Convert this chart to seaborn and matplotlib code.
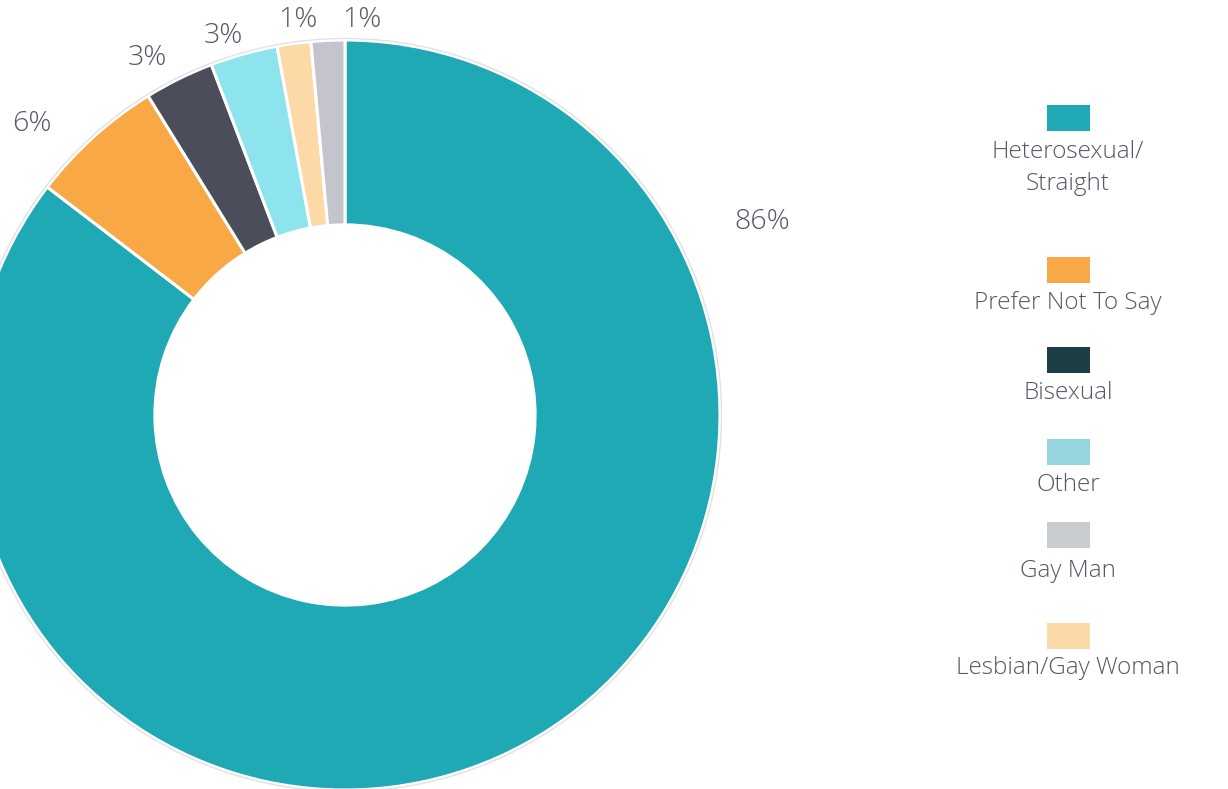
import matplotlib
matplotlib.use("Agg")
import matplotlib.pyplot as plt
import numpy as np
import seaborn as sns
from matplotlib.patches import Rectangle

# data
categories = ["Heterosexual/\nStraight", "Prefer Not To Say", "Bisexual", "Other",
              "Lesbian/Gay Woman", "Gay Man"]
shares = [85.4, 5.8, 3.0, 2.9, 1.45, 1.45]
pct_labels = ["86%", "6%", "3%", "3%", "1%", "1%"]
wedge_colors = ["#1fa9b4", "#f8a945", "#4b4d5a", "#8de4ec", "#fdd9a8", "#c4c4cc"]

legend_names = ["Heterosexual/\nStraight", "Prefer Not To Say", "Bisexual", "Other",
                "Gay Man", "Lesbian/Gay Woman"]
legend_colors = ["#1fa9b5", "#f8a847", "#1c3f46", "#95d6df", "#c9cdd0", "#fcdaa8"]

sns.set_theme(style="white")
plt.rcParams["font.family"] = ["Open Sans", "DejaVu Sans"]
txt_color = "#545766"

W, H = 1228, 789
fig = plt.figure(figsize=(W / 100, H / 100), dpi=100)
ax = fig.add_axes([0, 0, 1, 1])

wedges, _ = ax.pie(shares, colors=wedge_colors, startangle=90, counterclock=False,
                   radius=1.0, wedgeprops=dict(width=0.493, edgecolor="white", linewidth=2.2))

# donut: centre at px (345, 415), outer radius 375 px
R = 375.0
cx, cy = 345.0, H - 415.0
ax.set_aspect("auto")
ax.set_xlim(-cx / R, (W - cx) / R)
ax.set_ylim(-cy / R, (H - cy) / R)
ax.axis("off")

# faint outer ring
ring = plt.Circle((0, 0), 1.004, fill=False, edgecolor="#e2e2e6", linewidth=1.0)
ax.add_patch(ring)

# percentage labels: anchored at the wedge middle, nudged (pixels) like the original layout
label_nudge = [(0, 0), (-44, -7), (-20, -3), (-13, -7), (8, -3), (35, -6)]
for i, (w, lab) in enumerate(zip(wedges, pct_labels)):
    if i == 0:
        ang, r = 24.8, 1.225
    else:
        ang = (w.theta1 + w.theta2) / 2
        r = 1.07
    x = r * np.cos(np.radians(ang))
    y = r * np.sin(np.radians(ang))
    dx, dy = label_nudge[i]
    ax.annotate(lab, (x, y), xytext=(dx * 0.72, dy * 0.72), textcoords="offset points",
                ha="center", va="center", fontsize=20.5, color=txt_color, fontweight="light")

# legend, swatch above centred label
legend_x = 1068
swatch_y = [118, 270, 360, 452, 535, 636]
text_y = [168, 303, 393, 485, 571, 668]
for name, col, sy, ty in zip(legend_names, legend_colors, swatch_y, text_y):
    fig.patches.append(Rectangle(((legend_x - 21.5) / W, 1 - (sy + 13) / H), 43 / W, 26 / H,
                                 transform=fig.transFigure, facecolor=col, edgecolor="none"))
    fig.text(legend_x / W, 1 - ty / H, name, ha="center", va="center", fontsize=17.5,
             color=txt_color, fontweight="light", linespacing=1.4)

fig.savefig("out.png", dpi=100)
